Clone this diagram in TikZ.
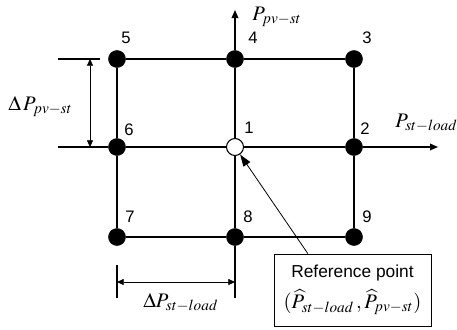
\documentclass[tikz,border=0pt]{standalone}
\usepackage{mathptmx}
\usepackage[no-math]{fontspec}
\setmainfont{Liberation Sans}
\usetikzlibrary{arrows.meta,calc}

\tikzset{
    dot/.style={circle, fill=black, draw=black, minimum size=12.75pt, inner sep=0pt},
    hollow/.style={circle, fill=white, draw=black, line width=0.8pt, minimum size=12.75pt, inner sep=0pt},
    grid/.style={draw=black, line width=0.9pt},
    axis/.style={draw=black, line width=0.9pt, -{Triangle[length=6pt,width=5pt]}},
    dimline/.style={draw=black, line width=0.5pt, {Triangle[length=5pt,width=4.5pt]}-{Triangle[length=5pt,width=4.5pt]}},
    tickline/.style={draw=black, line width=1.6pt},
    num/.style={black, anchor=base west, inner sep=0pt, font=\fontsize{12.5}{14}\selectfont},
    lbl/.style={black, anchor=base west, inner sep=0pt, font=\fontsize{15.5}{18}\selectfont}
}

\begin{document}
\begin{tikzpicture}[x=0.75pt, y=-0.75pt]
            \useasboundingbox (0,0) rectangle (457,329);
            % operating points
            \node[dot] (n5) at (117,59) {};
            \node[dot] (n4) at (235,59) {};
            \node[dot] (n3) at (354,59) {};
            \node[dot] (n6) at (117,147) {};
            \node[hollow] (n1) at (235,147) {};
            \node[dot] (n2) at (354,147) {};
            \node[dot] (n7) at (117,237) {};
            \node[dot] (n8) at (235,237) {};
            \node[dot] (n9) at (354,237) {};
            \coordinate (xs) at (58,147);
            \coordinate (xe) at (438,147);
            \coordinate (ys) at (235,298);
            \coordinate (ye) at (235,10);
            % grid and axes
            \draw[grid] (n5) -- (n4) -- (n3) -- (n2) -- (n9) -- (n8) -- (n7) -- (n6) -- (n5);
            \draw[axis] (xs) -- (n6) -- (n1) -- (n2) -- (xe);
            \draw[axis] (ys) -- (n8) -- (n1) -- (n4) -- (ye);
            \node[lbl] (py) at (252,20) {$P_{pv-st}$};
            \node[lbl] (px) at (395,127) {$P_{st-load}$};
            % numbers
            \node[num] (l1) at (244,133) {1};
            \node[num] (l2) at (360,134) {2};
            \node[num] (l3) at (362,43) {3};
            \node[num] (l4) at (248,43) {4};
            \node[num] (l5) at (121,43) {5};
            \node[num] (l6) at (124,135) {6};
            \node[num] (l7) at (125,222) {7};
            \node[num] (l8) at (243,222) {8};
            \node[num] (l9) at (362,222) {9};
            % step sizes
            \coordinate (tya) at (58,59);
            \coordinate (tyb) at (100,59);
            \coordinate (dya) at (90,59);
            \coordinate (dyb) at (90,147);
            \draw[tickline] (tya) -- (tyb);
            \draw[dimline] (dya) -- (dyb);
            \node[lbl] (dpy) at (8,110) {$\Delta\,P_{pv-st}$};
            \coordinate (txa) at (117,265);
            \coordinate (txb) at (117,298);
            \coordinate (dxa) at (117,282);
            \coordinate (dxb) at (235,282);
            \draw[tickline] (txa) -- (txb);
            \draw[dimline] (dxa) -- (dxb);
            \node[lbl] (dpx) at (143,307) {$\Delta P_{st-load}$};
            % reference point
            \node[draw=black, line width=0.6pt, minimum width=117.75pt, minimum height=54pt, inner sep=0pt, align=center, fill=white] (box) at (352.5,290)
                {\fontsize{13}{15}\selectfont Reference point\\[5pt]\fontsize{15.5}{18}\selectfont $(\widehat{P}_{st-load}\,,\widehat{P}_{pv-st})$};
            \draw[draw=black, line width=0.6pt, -{Triangle[length=9pt,width=6pt]}] ($(box.north west)!0.217!(box.north east)$) -- (n1);
        \end{tikzpicture}
\end{document}
